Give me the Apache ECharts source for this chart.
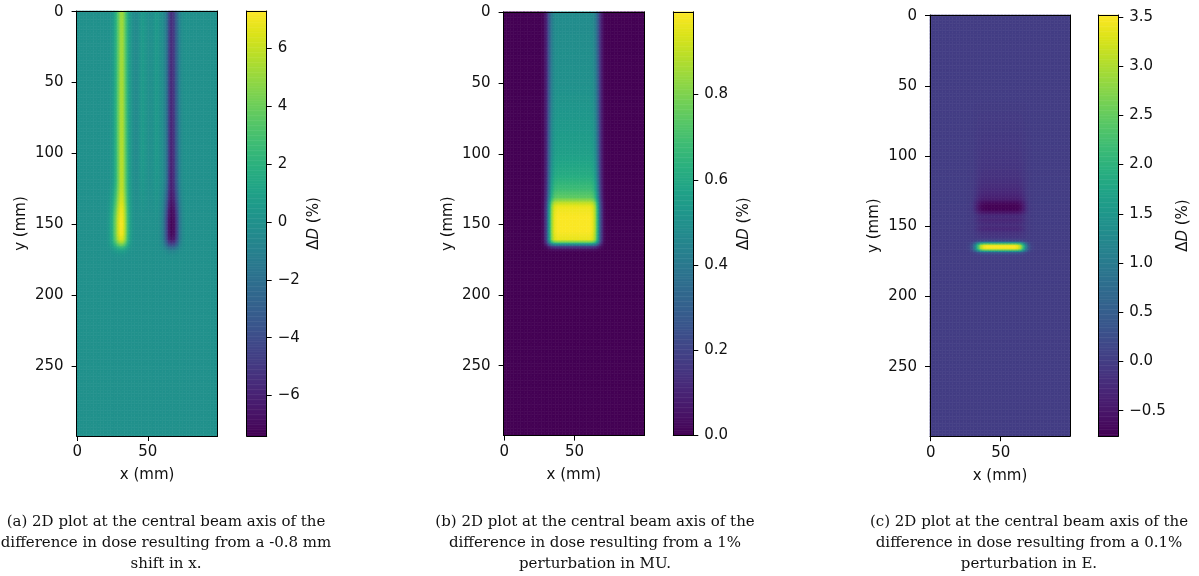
<!DOCTYPE html>
<html>
<head>
<meta charset="utf-8">
<script src="https://cdn.jsdelivr.net/npm/echarts@6/dist/echarts.min.js"></script>
<style>
html, body { margin: 0; padding: 0; background: #fff; }
#chart { width: 1199px; height: 576px; }
</style>
</head>
<body>
<div id="chart"></div>
<script>
// Dose grid: 100 mm lateral (x) by 300 mm depth (y), 1 mm cells
const xCells = 100;
const yCells = 300;
const xTicks = [0, 50];
const yTicks = [0, 50, 100, 150, 200, 250];

// (a) dose difference for a -0.8 mm shift in x
// lateral shape of the edge stripes in the entrance region (+ left penumbra, - right penumbra)
const aEntranceX = [0, 22, 24, 26, 28, 30, 31.5, 33, 35, 37, 39, 41, 59, 61, 63, 64.5, 66, 67, 68.5, 70, 72, 74, 76, 99];
const aEntranceW = [0, 0, 0.04, 0.16, 0.45, 0.82, 1, 0.85, 0.48, 0.16, 0.04, 0, 0, -0.06, -0.25, -0.6, -0.95, -1, -0.9, -0.6, -0.25, -0.06, 0, 0];
// wider stripes around the Bragg peak
const aPeakX = [0, 20, 22, 24.5, 27, 29.5, 31.5, 33.5, 35.5, 37.5, 39.5, 41, 57, 59, 61, 63, 65, 67, 69, 71, 73, 75, 77, 99];
const aPeakW = [0, 0, 0.05, 0.2, 0.55, 0.9, 1, 0.85, 0.45, 0.15, 0.03, 0, 0, -0.05, -0.18, -0.5, -0.88, -1, -0.92, -0.6, -0.22, -0.06, 0, 0];
const aBlendDepth = [0, 120, 135, 145, 299];
const aBlend = [0, 0, 0.6, 1, 1];
// stripe strength (%) along depth
const aStripeDepth = [0, 50, 100, 125, 133, 140, 150, 157, 161, 164, 166.5, 169, 172, 176, 299];
const aStripeAmp = [5.4, 5.6, 5.9, 6.1, 6.5, 7.0, 7.3, 7.2, 6.6, 4.8, 2.6, 0.9, 0.2, 0, 0];
// faint ripples inside the field (%)
const aRippleX = [0, 38, 40.5, 43, 45, 47, 49, 51.5, 54, 56, 58, 59, 99];
const aRippleW = [0, 0, -0.45, -0.3, 0.35, 0.55, 0.15, -0.2, 0.1, 0.5, 0.3, 0, 0];
const aRippleDepth = [0, 100, 130, 150, 299];
const aRippleAmp = [1, 1, 0.5, 0, 0];
const aRange = [-7.4, 7.3];
const aBarTicks = [-6, -4, -2, 0, 2, 4, 6];

// (b) dose difference for a 1% perturbation in MU
const bFieldX = [0, 26, 28, 30, 31.5, 33, 34.5, 36, 38, 61, 63, 64.5, 66, 67.5, 69, 71, 73, 99];
const bFieldW = [0, 0, 0.04, 0.2, 0.45, 0.72, 0.9, 0.97, 1, 1, 0.97, 0.9, 0.72, 0.45, 0.2, 0.04, 0, 0];
const bDepth = [0, 50, 100, 115, 125, 131, 133, 135.5, 138, 145, 155, 161, 163, 164.5, 166, 168, 170, 299];
const bValue = [0.48, 0.50, 0.56, 0.61, 0.68, 0.75, 0.82, 0.92, 0.97, 0.99, 0.99, 0.96, 0.75, 0.45, 0.18, 0.04, 0, 0];
const bRange = [0, 0.994];
const bBarTicks = [0, 0.2, 0.4, 0.6, 0.8];

// (c) dose difference for a 0.1% perturbation in E
const cFieldX = [0, 25, 28, 30, 32, 34, 36, 38, 40, 60, 62, 64, 66, 68, 70, 72, 75, 99];
const cFieldW = [0, 0, 0.03, 0.12, 0.35, 0.65, 0.88, 0.97, 1, 1, 0.97, 0.88, 0.65, 0.35, 0.12, 0.03, 0, 0];
const cDepth = [0, 60, 75, 90, 105, 115, 122, 128, 131, 133, 135, 137, 139, 141, 143, 146, 149, 152, 155, 158, 160, 161, 162, 163, 164, 165, 166, 167, 168, 169, 170.5, 172, 299];
const cValue = [0, 0, -0.03, -0.06, -0.1, -0.15, -0.22, -0.32, -0.42, -0.6, -0.72, -0.76, -0.68, -0.45, -0.25, -0.3, -0.2, -0.28, -0.15, -0.1, 0.05, 0.5, 1.5, 2.8, 3.4, 3.52, 3.4, 2.8, 1.5, 0.5, 0.05, 0, 0];
const cRange = [-0.76, 3.52];
const cBarTicks = [-0.5, 0, 0.5, 1, 1.5, 2, 2.5, 3, 3.5];

const captions = [
  '(a) 2D plot at the central beam axis of the\ndifference in dose resulting from a -0.8 mm\nshift in x.',
  '(b) 2D plot at the central beam axis of the\ndifference in dose resulting from a 1%\nperturbation in MU.',
  '(c) 2D plot at the central beam axis of the\ndifference in dose resulting from a 0.1%\nperturbation in E.'
];

const viridis = ['#440154', '#481467', '#482576', '#453781', '#404688', '#39568c', '#33638d', '#2d708e', '#287d8e', '#238a8d',
  '#1f968b', '#20a387', '#29af7f', '#3cbb75', '#55c667', '#73d055', '#95d840', '#b8de29', '#dce319', '#fde725'];

function interp(xs, ys, t) {
  if (t <= xs[0]) return ys[0];
  for (let k = 1; k < xs.length; k++) {
    if (t <= xs[k]) {
      const f = (t - xs[k - 1]) / (xs[k] - xs[k - 1]);
      return ys[k - 1] + f * (ys[k] - ys[k - 1]);
    }
  }
  return ys[ys.length - 1];
}

function buildField(fn) {
  const d = [];
  for (let j = 0; j < yCells; j++) {
    for (let i = 0; i < xCells; i++) d.push([i, j, +fn(i, j).toFixed(4)]);
  }
  return d;
}

const fieldA = buildField((x, y) => {
  const m = interp(aBlendDepth, aBlend, y);
  const lat = (1 - m) * interp(aEntranceX, aEntranceW, x) + m * interp(aPeakX, aPeakW, x);
  return lat * interp(aStripeDepth, aStripeAmp, y) +
    interp(aRippleX, aRippleW, x) * interp(aRippleDepth, aRippleAmp, y);
});
const fieldB = buildField((x, y) => interp(bFieldX, bFieldW, x) * interp(bDepth, bValue, y));
const fieldC = buildField((x, y) => interp(cFieldX, cFieldW, x) * interp(cDepth, cValue, y));

const xCats = Array.from({ length: xCells }, (_, i) => String(i));
const yCats = Array.from({ length: yCells }, (_, i) => String(i));
const barLevels = 256;
const barCats = Array.from({ length: barLevels }, (_, i) => String(i));

const FONT = 'DejaVu Sans';
const FS = 15;
const INK = '#111';
const line = { show: true, onZero: false, lineStyle: { color: '#000', width: 1 } };

const panels = [
  { field: fieldA, range: aRange, ticks: aBarTicks, fmt: v => String(v).replace('-', '\u2212'),
    plot: { left: 76.6, top: 11, width: 141, height: 425 }, bar: { left: 246.7, top: 11, width: 20, height: 425 },
    nameGap: 40, caption: captions[0], capX: 166 },
  { field: fieldB, range: bRange, ticks: bBarTicks, fmt: v => v.toFixed(1),
    plot: { left: 503.6, top: 11.8, width: 140.5, height: 423.8 }, bar: { left: 673.3, top: 11.8, width: 20, height: 423.8 },
    nameGap: 43, caption: captions[1], capX: 595 },
  { field: fieldC, range: cRange, ticks: cBarTicks, fmt: v => v.toFixed(1).replace('-', '\u2212'),
    plot: { left: 930, top: 15, width: 140, height: 421.2 }, bar: { left: 1098.3, top: 15, width: 20, height: 421.2 },
    nameGap: 57, caption: captions[2], capX: 1029 }
];

const grid = [], xAxis = [], yAxis = [], series = [], visualMap = [], graphic = [];
const txt = { fontFamily: FONT, fontSize: FS, color: INK };

panels.forEach((p) => {
  const g = grid.length;
  grid.push(Object.assign({}, p.plot), Object.assign({}, p.bar));
  const gb = g + 1;

  // image axes
  const xa = xAxis.length;
  xAxis.push({
    gridIndex: g, type: 'category', data: xCats, position: 'bottom', z: 10,
    axisLine: line,
    axisTick: { show: true, alignWithLabel: true, length: 5, interval: i => xTicks.includes(i), lineStyle: { color: '#000' } },
    axisLabel: Object.assign({ interval: i => xTicks.includes(i), margin: 9 }, txt),
    splitLine: { show: false },
    name: 'x (mm)', nameLocation: 'middle', nameGap: 32, nameTextStyle: txt
  });
  xAxis.push({ gridIndex: g, type: 'value', position: 'top', min: 0, max: 1, z: 10, axisLine: line,
    axisTick: { show: false }, axisLabel: { show: false }, splitLine: { show: false } });
  const ya = yAxis.length;
  yAxis.push({
    gridIndex: g, type: 'category', data: yCats, inverse: true, position: 'left', z: 10,
    axisLine: line,
    axisTick: { show: true, alignWithLabel: true, length: 5, interval: i => yTicks.includes(i), lineStyle: { color: '#000' } },
    axisLabel: Object.assign({ interval: i => yTicks.includes(i), margin: 13 }, txt),
    splitLine: { show: false },
    name: 'y (mm)', nameLocation: 'middle', nameGap: 48, nameRotate: 90, nameTextStyle: txt
  });
  yAxis.push({ gridIndex: g, type: 'value', position: 'right', min: 0, max: 1, z: 10, axisLine: line,
    axisTick: { show: false }, axisLabel: { show: false }, splitLine: { show: false } });

  // colorbar axes
  const xb = xAxis.length;
  xAxis.push({ gridIndex: gb, type: 'category', data: ['c'], position: 'bottom', z: 10, axisLine: line,
    axisTick: { show: false }, axisLabel: { show: false }, splitLine: { show: false } });
  xAxis.push({ gridIndex: gb, type: 'value', position: 'top', min: 0, max: 1, z: 10, axisLine: line,
    axisTick: { show: false }, axisLabel: { show: false }, splitLine: { show: false } });
  const yb = yAxis.length;
  yAxis.push({ gridIndex: gb, type: 'category', data: barCats, position: 'left', z: 10, axisLine: line,
    axisTick: { show: false }, axisLabel: { show: false }, splitLine: { show: false } });
  yAxis.push({
    gridIndex: gb, type: 'value', position: 'right', min: p.range[0], max: p.range[1], z: 10,
    axisLine: line,
    axisTick: { show: true, length: 5, customValues: p.ticks, lineStyle: { color: '#000' } },
    axisLabel: Object.assign({ customValues: p.ticks, margin: 11, formatter: p.fmt }, txt),
    splitLine: { show: false },
    name: '\u0394{i|D} (%)', nameLocation: 'middle', nameGap: p.nameGap, nameRotate: 90,
    nameTextStyle: Object.assign({ rich: { i: { fontFamily: FONT, fontSize: FS, color: INK, fontStyle: 'italic' } } }, txt)
  });

  const sImg = series.length;
  series.push({
    type: 'heatmap', xAxisIndex: xa, yAxisIndex: ya, data: p.field,
    progressive: 0, animation: false, silent: true, itemStyle: { borderWidth: 0 }
  });
  const step = (p.range[1] - p.range[0]) / barLevels;
  series.push({
    type: 'heatmap', xAxisIndex: xb, yAxisIndex: yb,
    data: barCats.map((_, k) => [0, k, p.range[0] + (k + 0.5) * step]),
    progressive: 0, animation: false, silent: true
  });

  visualMap.push({
    type: 'continuous', show: false, seriesIndex: [sImg, sImg + 1],
    min: p.range[0], max: p.range[1], inRange: { color: viridis }
  });

  graphic.push({
    type: 'text', x: p.capX, y: 511.5, silent: true,
    style: { text: p.caption, align: 'center', verticalAlign: 'top', font: '15px "DejaVu Serif"', lineHeight: 21, fill: '#111' }
  });
});

const chart = echarts.init(document.getElementById('chart'), null, { renderer: 'canvas' });
chart.setOption({ animation: false, grid, xAxis, yAxis, series, visualMap, graphic });
</script>
</body>
</html>
